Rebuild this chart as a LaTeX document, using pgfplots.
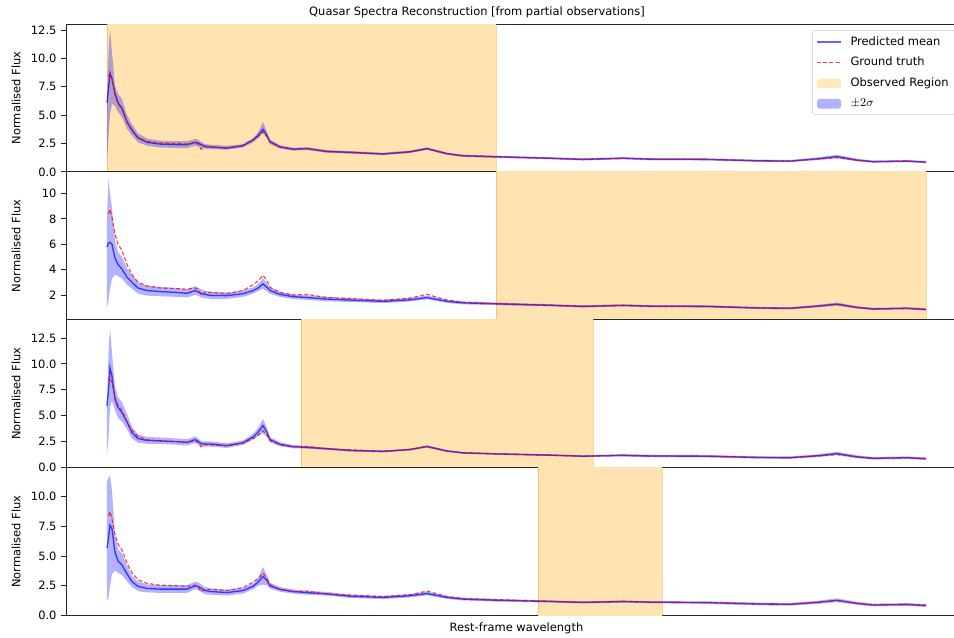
\documentclass[border=0pt]{standalone}
\usepackage{pgfplots}
\usepackage{pgfplotstable}
\usepackage{fontspec}
\setmainfont{DejaVu Sans}
\pgfplotsset{compat=1.18}
\definecolor{obs}{RGB}{255,228,178}
\newcommand{\fs}{\fontsize{8.6}{10}\selectfont}

\pgfplotstableread{
x y
108.5 8.4
110 8.75
112 8.1
115 6.8
118 6.0
122 5.5
127 4.4
132 3.6
138 3.0
147 2.7
160 2.55
177 2.5
187 2.45
195 2.55
198 2.45
201 2.0
205 2.2
210 2.2
227 2.1
243 2.35
253 2.8
258 3.1
263 3.55
267 3.1
270 2.6
280 2.2
293 2.0
307 2.05
327 1.8
350 1.72
383 1.58
410 1.75
427 2.05
447 1.6
463 1.42
497 1.33
550 1.2
583 1.1
623 1.2
650 1.12
707 1.1
757 0.98
790 0.95
817 1.12
837 1.25
857 1.02
873 0.9
907 0.95
926 0.86
}\gt

\pgfplotstableread{
x m lo hi
107 6.1 1.0 6.5
108.5 7.3 3.0 10.5
110 8.7 5.0 12.6
112 8.2 6.0 10.5
115 6.9 5.8 7.6
118 6.1 5.3 6.9
122 5.6 4.8 6.4
127 4.4 3.8 5.0
132 3.7 3.2 4.2
138 3.0 2.6 3.4
147 2.6 2.3 2.95
160 2.45 2.15 2.75
177 2.4 2.1 2.7
187 2.4 2.1 2.7
195 2.6 2.3 2.9
198 2.55 2.25 2.85
201 2.4 2.15 2.65
205 2.25 2.05 2.45
210 2.2 2.0 2.4
227 2.1 1.95 2.3
243 2.3 2.15 2.45
253 2.8 2.6 3.0
258 3.2 2.95 3.45
263 3.75 3.4 4.4
267 3.2 2.95 3.5
270 2.65 2.45 2.85
280 2.2 2.05 2.35
293 2.0 1.87 2.13
307 2.05 1.92 2.18
327 1.8 1.68 1.92
350 1.72 1.6 1.84
383 1.58 1.47 1.69
410 1.77 1.66 1.88
427 2.05 1.93 2.17
447 1.6 1.5 1.7
463 1.42 1.32 1.52
497 1.33 1.23 1.43
550 1.2 1.1 1.3
583 1.1 1.0 1.2
623 1.2 1.1 1.3
650 1.12 1.02 1.22
707 1.1 1.0 1.2
757 0.98 0.88 1.08
790 0.95 0.85 1.05
817 1.15 1.03 1.27
837 1.35 1.2 1.5
857 1.04 0.92 1.16
873 0.9 0.8 1.0
907 0.95 0.85 1.05
926 0.86 0.76 0.96
}\pA

\pgfplotstableread{
x m lo hi
107 5.8 1.07 8.0
108.5 6.1 1.5 11.2
110 6.15 2.5 10.0
112 6.0 3.3 8.8
115 4.9 3.6 6.3
118 4.4 3.5 5.4
122 4.05 3.3 5.0
127 3.4 2.8 4.1
132 3.0 2.5 3.6
138 2.55 2.1 3.0
147 2.35 1.95 2.75
160 2.27 1.9 2.65
177 2.2 1.85 2.55
187 2.13 1.8 2.46
195 2.34 2.0 2.68
198 2.25 1.95 2.6
201 2.13 1.8 2.45
205 2.05 1.75 2.35
210 1.97 1.7 2.25
227 1.95 1.7 2.2
243 2.1 1.85 2.35
253 2.34 2.1 2.6
258 2.55 2.3 2.85
263 2.87 2.5 3.3
267 2.6 2.3 2.9
270 2.35 2.1 2.6
280 2.05 1.85 2.25
293 1.87 1.68 2.06
307 1.8 1.62 1.98
327 1.68 1.5 1.86
350 1.6 1.45 1.75
383 1.5 1.36 1.64
410 1.62 1.48 1.76
427 1.8 1.65 1.95
447 1.5 1.37 1.63
463 1.38 1.26 1.5
497 1.3 1.2 1.4
550 1.19 1.1 1.28
583 1.1 1.01 1.19
623 1.18 1.09 1.27
650 1.12 1.03 1.21
707 1.1 1.01 1.19
757 0.98 0.89 1.07
790 0.95 0.86 1.04
817 1.12 1.02 1.22
837 1.28 1.16 1.4
857 1.02 0.92 1.12
873 0.9 0.81 0.99
907 0.95 0.86 1.04
926 0.86 0.77 0.95
}\pB

\pgfplotstableread{
x m lo hi
107 5.96 1.15 6.4
108.5 7.5 3.0 11.0
110 9.6 5.8 13.5
112 8.8 6.5 11.0
115 6.6 5.5 7.8
118 5.8 4.8 6.8
122 5.3 4.4 6.3
127 4.4 3.7 5.2
132 3.35 2.8 3.9
138 2.8 2.4 3.2
147 2.62 2.3 2.95
160 2.58 2.28 2.9
177 2.5 2.2 2.8
187 2.43 2.13 2.73
195 2.69 2.38 3.0
198 2.55 2.25 2.85
201 2.3 2.05 2.55
205 2.28 2.03 2.53
210 2.28 2.03 2.53
227 2.12 1.9 2.35
243 2.4 2.18 2.62
253 2.95 2.7 3.25
258 3.4 3.05 3.8
263 4.05 3.3 4.7
267 3.4 3.0 3.8
270 2.7 2.45 2.95
280 2.25 2.05 2.45
293 2.02 1.86 2.18
307 1.95 1.83 2.07
327 1.82 1.71 1.93
350 1.65 1.55 1.75
383 1.56 1.46 1.66
410 1.74 1.64 1.84
427 2.03 1.92 2.14
447 1.6 1.5 1.7
463 1.42 1.33 1.51
497 1.32 1.23 1.41
550 1.2 1.11 1.29
583 1.1 1.02 1.18
623 1.18 1.06 1.3
650 1.12 1.0 1.24
707 1.1 0.98 1.22
757 0.98 0.86 1.1
790 0.96 0.84 1.08
817 1.14 1.0 1.28
837 1.35 1.2 1.52
857 1.04 0.9 1.18
873 0.9 0.77 1.03
907 0.95 0.82 1.08
926 0.86 0.73 0.99
}\pC

\pgfplotstableread{
x m lo hi
107 5.66 1.2 11.3
108.5 6.5 1.5 11.6
110 7.6 2.5 11.8
112 7.3 3.5 10.5
115 5.3 3.8 6.8
118 4.6 3.6 5.6
122 4.25 3.4 5.2
127 3.5 2.9 4.2
132 2.85 2.4 3.35
138 2.45 2.05 2.85
147 2.28 1.95 2.62
160 2.22 1.9 2.55
177 2.22 1.9 2.55
187 2.22 1.9 2.55
195 2.5 2.2 2.85
198 2.45 2.15 2.8
201 2.3 2.0 2.6
205 2.1 1.8 2.4
210 2.02 1.75 2.3
227 1.93 1.68 2.18
243 2.1 1.85 2.35
253 2.45 2.2 2.7
258 2.8 2.5 3.15
263 3.28 2.6 4.07
267 2.95 2.55 3.35
270 2.5 2.25 2.75
280 2.2 2.0 2.4
293 2.02 1.84 2.2
307 1.92 1.75 2.09
327 1.82 1.66 1.98
350 1.62 1.48 1.76
383 1.52 1.38 1.66
410 1.66 1.52 1.8
427 1.85 1.7 2.0
447 1.52 1.39 1.65
463 1.38 1.26 1.5
497 1.28 1.17 1.39
550 1.18 1.09 1.27
583 1.1 1.01 1.19
623 1.17 1.08 1.26
650 1.12 1.03 1.21
707 1.08 0.97 1.19
757 0.97 0.85 1.09
790 0.94 0.82 1.06
817 1.1 0.97 1.23
837 1.28 1.12 1.44
857 1.02 0.89 1.15
873 0.88 0.76 1.0
907 0.92 0.8 1.04
926 0.84 0.72 0.96
}\pD

\pgfplotsset{
  panel/.style={
    scale only axis, width=675.75pt, height=110.9pt,
    xmin=66, xmax=967, xtick=\empty,
    axis line style={black!85, line width=0.7pt},
    tick align=outside, ytick pos=left,
    major tick length=3.6pt,
    every tick/.style={black!85, line width=0.6pt},
    tick label style={font=\fs},
    /pgf/number format/assume math mode=true,
    ylabel={Normalised Flux},
    every axis y label/.style={at={(axis description cs:-0.0555,0.5)}, rotate=90, anchor=center, font=\fs},
    clip=true,
  },
  dec/.style={yticklabel style={/pgf/number format/.cd, fixed, fixed zerofill, precision=1}},
  meanline/.style={blue, opacity=0.7, line width=1.0pt},
  gtline/.style={red, opacity=0.75, line width=0.85pt, dash pattern=on 3pt off 1.6pt},
  band/.style={fill=blue, fill opacity=0.3, draw=none},
  region/.style={fill=obs, draw=orange, draw opacity=0.35, line width=0.6pt},
}

\newcommand{\panelbody}[3]{%
  \addplot[region, forget plot] coordinates {(#2,-2) (#3,-2) (#3,20) (#2,20)} -- cycle;
  \addplot[draw=none, stack plots=y, forget plot] table[x=x, y=lo] {#1};
  \addplot[band, stack plots=y, forget plot] table[x=x, y expr=\thisrow{hi}-\thisrow{lo}] {#1} \closedcycle;
  \addplot[meanline, forget plot] table[x=x, y=m] {#1};
  \addplot[gtline, forget plot] table[x=x, y=y] {\gt};
}

\begin{document}
\begin{tikzpicture}
\begin{axis}[panel, dec, name=p1, at={(49.5pt,-18pt)}, anchor=north west,
  ymin=0, ymax=13.03, ytick={0,2.5,5,7.5,10,12.5},
  legend cell align=left,
  legend style={at={(axis description cs:0.828,0.959)}, anchor=north west,
    draw=black!20, rounded corners=2pt, fill=white, fill opacity=0.85, text opacity=1,
    font=\fs, row sep=3.6pt, inner xsep=3pt, inner ysep=2.5pt},
]
\addlegendimage{legend image code/.code={\draw[blue!60, line width=1.3pt] (0pt,0pt) -- (18pt,0pt); \path[draw=none, fill=none] (0pt,0pt) -- (23pt,0pt);}}
\addlegendentry{Predicted mean}
\addlegendimage{legend image code/.code={\draw[red, opacity=0.75, line width=0.85pt, dash pattern=on 3pt off 1.6pt] (0pt,0pt) -- (18pt,0pt); \path[draw=none, fill=none] (0pt,0pt) -- (23pt,0pt);}}
\addlegendentry{Ground truth}
\addlegendimage{legend image code/.code={\fill[obs, draw=none] (0pt,-3.6pt) rectangle (18pt,3.6pt); \path[draw=none, fill=none] (0pt,0pt) -- (23pt,0pt);}}
\addlegendentry{Observed Region}
\addlegendimage{legend image code/.code={\fill[blue, fill opacity=0.3, draw=none] (0pt,-3.6pt) rectangle (18pt,3.6pt); \path[draw=none, fill=none] (0pt,0pt) -- (23pt,0pt);}}
\addlegendentry{$\pm2\sigma$}
\panelbody{\pA}{107}{496}
\end{axis}

\begin{axis}[panel, name=p2, at={(p1.south west)}, anchor=north west,
  ymin=0.05, ymax=11.7, ytick={2,4,6,8,10}]
\panelbody{\pB}{496}{926}
\end{axis}

\begin{axis}[panel, dec, name=p3, at={(p2.south west)}, anchor=north west,
  ymin=0, ymax=14.25, ytick={0,2.5,5,7.5,10,12.5}]
\panelbody{\pC}{301}{593}
\end{axis}

\begin{axis}[panel, dec, name=p4, at={(p3.south west)}, anchor=north west,
  ymin=0, ymax=12.45, ytick={0,2.5,5,7.5,10},
  xlabel={Rest-frame wavelength},
  every axis x label/.style={at={(axis description cs:0.5,0)}, anchor=north, yshift=-2pt, font=\fs}]
\panelbody{\pD}{538}{662}
\end{axis}

\node[font=\fs] at (357.75pt,-9pt) {Quasar Spectra Reconstruction [from partial observations]};
\pgfresetboundingbox
\path[use as bounding box] (0pt,0pt) rectangle (715.5pt,-477.75pt);
\end{tikzpicture}
\end{document}
